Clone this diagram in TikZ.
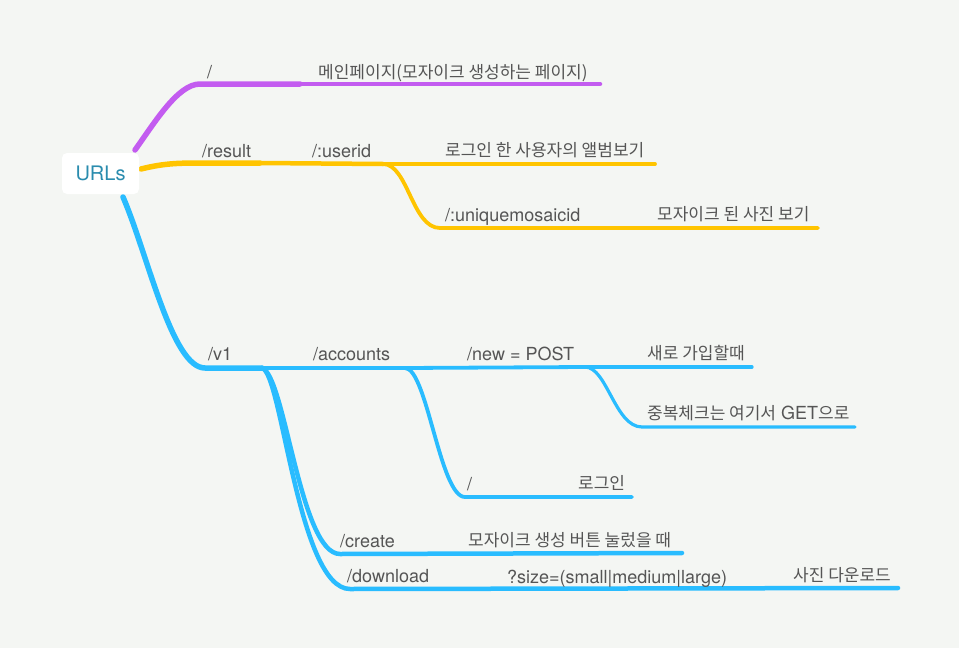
\documentclass[tikz,border=0pt]{standalone}
\usepackage{fontspec}
\setmainfont{TeX Gyre Heros}
\newfontfamily\kr{Noto Sans CJK KR}
\definecolor{bgc}{HTML}{F4F6F3}
\definecolor{txtc}{HTML}{555555}
\definecolor{rootc}{HTML}{2A8CAE}
\definecolor{purc}{HTML}{C35CF0}
\definecolor{yelc}{HTML}{FFC400}
\definecolor{bluc}{HTML}{29BCFF}
\newcommand{\krf}{\kr\fontsize{17}{20}\selectfont}
\begin{document}
\begin{tikzpicture}[x=1pt,y=-1pt,
  lbl/.style={anchor=base west, inner sep=0pt, text=txtc, font=\fontsize{18}{20}\selectfont},
  krl/.style={lbl, font=\krf},
  wire/.style={line cap=round, line join=round},
  lvA/.style={wire, line width=5.5pt},
  lvB/.style={wire, line width=4.5pt},
  lvC/.style={wire, line width=3.8pt},
  lvD/.style={wire, line width=3.2pt}]
\fill[bgc] (0,0) rectangle (959,648);
\useasboundingbox (0,0) rectangle (959,648);

% ---- coordinates
\coordinate (pS) at (135,150);
\coordinate (pA) at (200,84);
\coordinate (pE) at (600,84);

\coordinate (yS) at (141,169);
\coordinate (yA) at (205,163);
\coordinate (yB) at (383,164);
\coordinate (yE) at (655,164);
\coordinate (yC) at (440,228);
\coordinate (yF) at (818,228);

\coordinate (bS) at (123,197);
\coordinate (bA) at (205,368);
\coordinate (bV) at (262,368);
\coordinate (bAc) at (405,368);
\coordinate (bN) at (585,367);
\coordinate (bE) at (752,367);
\coordinate (bG) at (642,427);
\coordinate (bGE) at (855,427);
\coordinate (bL) at (465,497);
\coordinate (bLE) at (632,497);
\coordinate (bC) at (340,554);
\coordinate (bCE) at (682,553);
\coordinate (bD) at (350,589);
\coordinate (bDE) at (898,588);

% ---- purple
\draw[lvA, purc] (pS) .. controls (155,122) and (178,84) .. (pA) -- (300,84);
\draw[lvB, purc] (300,84) -- (pE);

% ---- yellow
\draw[lvA, yelc] (yS) .. controls (165,163) and (180,163) .. (yA) -- (260,163);
\draw[lvB, yelc] (260,163) -- (yB);
\draw[lvC, yelc] (yB) -- (yE);
\draw[lvC, yelc] (yB) .. controls (408,164) and (412,228) .. (yC) -- (yF);

% ---- blue
\draw[lvA, bluc] (bS) .. controls (148,255) and (172,368) .. (bA) -- (bV);
\draw[lvB, bluc] (bV) -- (bAc);
\draw[lvC, bluc] (bAc) -- (bN);
\draw[lvD, bluc] (bN) -- (bE);
\draw[lvD, bluc] (bN) .. controls (607,367) and (615,427) .. (bG) -- (bGE);
\draw[lvC, bluc] (bAc) .. controls (427,368) and (440,497) .. (bL) -- (bLE);
\draw[lvB, bluc] (bV) .. controls (285,375) and (300,554) .. (bC) -- (bCE);
\draw[lvB, bluc] (bV) .. controls (282,372) and (298,589) .. (bD) -- (bDE);

% ---- root
\node[fill=white, rounded corners=5pt, minimum width=77pt, minimum height=41pt, inner sep=0pt,
      text=rootc, font=\fontsize{20}{22}\selectfont] (root) at (100.5,173.5) {URLs};

% ---- labels
\node[lbl] (l1) at (207,78) {/};
\node[krl] (l1a) at (318,78) {메인페이지(모자이크 생성하는 페이지)};
\node[lbl] (l2) at (202,157) {/result};
\node[lbl] (l2a) at (312,157) {/:userid};
\node[krl] (l2b) at (445,156) {로그인 한 사용자의 앨범보기};
\node[lbl] (l2c) at (445,221) {/:uniquemosaicid};
\node[krl] (l2d) at (657,220) {모자이크 된 사진 보기};
\node[lbl] (l3) at (208,360) {/v1};
\node[lbl] (l3a) at (313,360) {/accounts};
\node[lbl] (l3b) at (467,360) {/new = POST};
\node[krl] (l3c) at (647,359) {새로 가입할때};
\node[lbl] (l3d) at (647,419) {{\krf 중복체크는 여기서} GET{\krf 으로}};
\node[lbl] (l3e) at (467,490) {/};
\node[krl] (l3f) at (578,489) {로그인};
\node[lbl] (l3g) at (340,547) {/create};
\node[krl] (l3h) at (468,546) {모자이크 생성 버튼 눌렀을 때};
\node[lbl] (l3i) at (347,582) {/download};
\node[lbl] (l3j) at (507,583) {?size=(small|medium|large)};
\node[krl] (l3k) at (793,581) {사진 다운로드};
\end{tikzpicture}
\end{document}
